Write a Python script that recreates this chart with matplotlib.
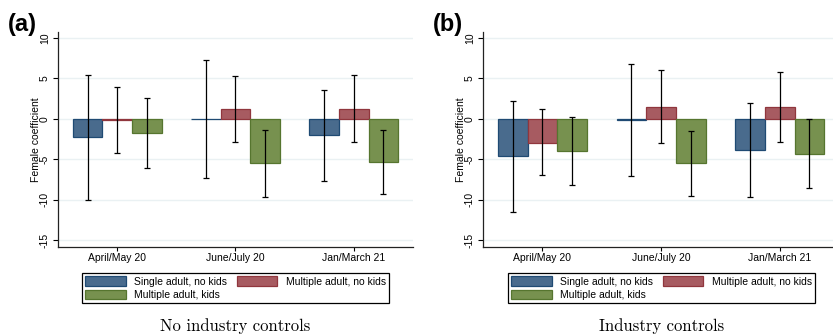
import numpy as np
from matplotlib import pyplot as plt
from matplotlib.patches import Patch

plt.rcParams['font.family'] = ['Liberation Sans', 'DejaVu Sans']
plt.rcParams['axes.unicode_minus'] = False

periods = ['April/May 20', 'June/July 20', 'Jan/March 21']
groups = ['Single adult, no kids', 'Multiple adult, no kids', 'Multiple adult, kids']

# panel (a): no industry controls
coef_a = [[-2.27, 0.05, -2.02],
          [-0.12, 1.20, 1.20],
          [-1.70, -5.50, -5.37]]
lo_a = [[-10.04, -7.27, -7.64],
        [-4.26, -2.89, -2.89],
        [-6.03, -9.59, -9.34]]
hi_a = [[5.45, 7.31, 3.55],
        [3.97, 5.33, 5.37],
        [2.56, -1.40, -1.32]]

# panel (b): industry controls
coef_b = [[-4.55, -0.10, -3.80],
          [-2.93, 1.45, 1.45],
          [-3.97, -5.45, -4.30]]
lo_b = [[-11.45, -7.02, -9.67],
        [-6.94, -2.98, -2.85],
        [-8.14, -9.50, -8.60]]
hi_b = [[2.27, 6.78, 2.02],
        [1.20, 5.99, 5.74],
        [0.21, -1.45, 0.04]]

fills = ['#496b8d', '#a75b61', '#77914f']
edges = ['#1f4a73', '#90363d', '#56752f']

W, H = 833, 335
fig = plt.figure(figsize=(W/100, H/100), dpi=100)

def px_axes(x0, x1, y0, y1):
    return fig.add_axes([x0/W, 1-y1/H, (x1-x0)/W, (y1-y0)/H])

def panel(ax, coef, lo, hi):
    x = np.arange(1, len(periods)+1)
    w = 0.25
    for i in range(3):
        c = np.array(coef[i]); l = np.array(lo[i]); h = np.array(hi[i])
        xs = x + (i-1)*w
        ax.bar(xs, c, width=w, color=fills[i], edgecolor=edges[i], lw=0.9, zorder=2)
        ax.errorbar(xs, c, yerr=[c-l, h-c], fmt='none', ecolor='black',
                    elinewidth=0.9, capsize=2.2, capthick=0.9, zorder=3)
    ax.set_xlim(0.5, 3.5)
    ax.set_ylim(-15.83, 10.74)
    ax.set_yticks([-15, -10, -5, 0, 5, 10])
    ax.set_xticks(x)
    ax.set_xticklabels(periods)
    ax.grid(axis='y', color='#eaf1f3', lw=1.0, zorder=0)
    ax.set_axisbelow(True)
    for s in ['top', 'right']:
        ax.spines[s].set_visible(False)
    for s in ['left', 'bottom']:
        ax.spines[s].set_color('#222222')
        ax.spines[s].set_linewidth(0.9)
    ax.tick_params(axis='y', labelsize=7.5, length=3.8, width=0.8, pad=2, labelrotation=90)
    ax.tick_params(axis='x', labelsize=7.5, length=3, width=0.8, pad=1.5)
    for t in ax.get_yticklabels():
        t.set_va('center')
    ax.set_ylabel('Female coefficient', fontsize=7.5, labelpad=-0.5)

ax_a = px_axes(58, 413, 32, 247)
panel(ax_a, coef_a, lo_a, hi_a)
ax_b = px_axes(483, 839, 32, 247)
panel(ax_b, coef_b, lo_b, hi_b)

fig.text(8/W, 1-24/H, '(a)', fontsize=17, fontweight='bold', va='center', ha='left')
fig.text(433/W, 1-24/H, '(b)', fontsize=17, fontweight='bold', va='center', ha='left')

order = [0, 2, 1]
handles = [Patch(facecolor=fills[i], edgecolor=edges[i], lw=0.9) for i in order]
labels = [groups[i] for i in order]
for lx in [82, 508]:
    fig.legend(handles, labels, ncol=2, fontsize=7.5, loc='lower left', mode='expand',
               bbox_to_anchor=(lx/W, 1-303/H, 307/W, 32/H), borderaxespad=0,
               fancybox=False, edgecolor='black', framealpha=1,
               handlelength=3.9, handleheight=1.0, labelspacing=0.3,
               borderpad=0.3, handletextpad=0.8, columnspacing=1.0).get_frame().set_linewidth(0.9)

fig.text(235/W, 1-326/H, 'No industry controls', fontsize=12, family='cmr10', ha='center', va='center')
fig.text(662/W, 1-326/H, 'Industry controls', fontsize=12, family='cmr10', ha='center', va='center')

fig.savefig('out.png', dpi=100)
